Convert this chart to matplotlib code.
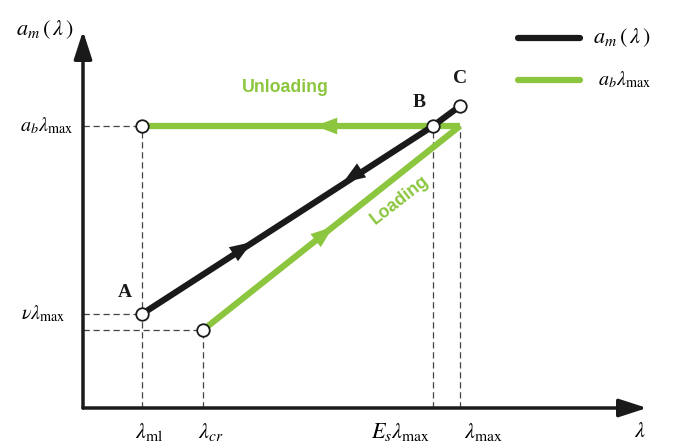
import numpy as np
import matplotlib.pyplot as plt

plt.rcParams['mathtext.fontset'] = 'stix'
plt.rcParams['font.family'] = 'Liberation Serif'

# key points (arbitrary units, origin at the axes corner)
X_LEVELS = [0.59, 1.20, 3.50, 3.77]          # lambda_ml, lambda_cr, Es*lambda_max, lambda_max
X_LABELS = [r'$\lambda_{\mathrm{ml}}$', r'$\lambda_{cr}$',
            r'$E_s\lambda_{\mathrm{max}}$', r'$\lambda_{\mathrm{max}}$']
Y_LEVELS = [2.82, 0.94, 0.78]                # ab*lambda_max, nu*lambda_max, level at lambda_cr
Y_LABELS = [r'$a_b\lambda_{\mathrm{max}}$', r'$\nu\lambda_{\mathrm{max}}$', '']

# curves
AM_X = [0.59, 3.50, 3.77]   # A, B, C
AM_Y = [0.94, 2.82, 3.02]
LOAD_X = [1.20, 3.77]
LOAD_Y = [0.78, 2.82]
UNLOAD_X = [3.77, 0.59]
UNLOAD_Y = [2.82, 2.82]

GREEN = '#8cc63f'
BLACK = '#1a1a1a'

fig = plt.figure(figsize=(6.78, 4.44), dpi=100)
ax = fig.add_axes([0, 0, 1, 1])
ax.set_xlim(-0.83, 5.95)
ax.set_ylim(-0.36, 4.08)
ax.axis('off')

# axes with arrow heads
head = '-|>,head_length=1.7,head_width=0.55'
ax.annotate('', xy=(5.64, 0), xytext=(0, 0),
            arrowprops=dict(arrowstyle=head, color=BLACK, lw=2.5, shrinkA=0, shrinkB=0))
ax.annotate('', xy=(0, 3.77), xytext=(0, 0),
            arrowprops=dict(arrowstyle=head, color=BLACK, lw=2.5, shrinkA=0, shrinkB=0))

# dashed guide lines
dash = dict(color='#444444', lw=0.9, ls=(0, (5, 3)), zorder=1)
ax.plot([0, X_LEVELS[0]], [Y_LEVELS[0]] * 2, **dash)
ax.plot([0, AM_X[0]], [AM_Y[0]] * 2, **dash)
ax.plot([0, LOAD_X[0]], [LOAD_Y[0]] * 2, **dash)
ax.plot([X_LEVELS[0]] * 2, [0, Y_LEVELS[0]], **dash)
ax.plot([X_LEVELS[1]] * 2, [0, LOAD_Y[0]], **dash)
ax.plot([X_LEVELS[2]] * 2, [0, Y_LEVELS[0]], **dash)
ax.plot([X_LEVELS[3]] * 2, [0, Y_LEVELS[0]], **dash)

# curves
ax.plot(UNLOAD_X, UNLOAD_Y, color=GREEN, lw=4.5, solid_capstyle='butt', zorder=2)
ax.plot(LOAD_X, LOAD_Y, color=GREEN, lw=4.5, solid_capstyle='butt', zorder=2)
ax.plot(AM_X, AM_Y, color=BLACK, lw=4.5, solid_capstyle='butt', zorder=3)


def mid_arrow(x0, y0, x1, y1, t, color, z):
    # arrow head placed at fraction t along the segment
    xa = x0 + (x1 - x0) * (t - 0.1)
    ya = y0 + (y1 - y0) * (t - 0.1)
    xb = x0 + (x1 - x0) * t
    yb = y0 + (y1 - y0) * t
    ax.annotate('', xy=(xb, yb), xytext=(xa, ya), zorder=z,
                arrowprops=dict(arrowstyle='-|>,head_length=1.6,head_width=0.6',
                                color=color, lw=0, shrinkA=0, shrinkB=0))


mid_arrow(AM_X[0], AM_Y[0], AM_X[-1], AM_Y[-1], 0.346, BLACK, 4)
mid_arrow(AM_X[-1], AM_Y[-1], AM_X[0], AM_Y[0], 0.368, BLACK, 4)
mid_arrow(LOAD_X[0], LOAD_Y[0], LOAD_X[1], LOAD_Y[1], 0.506, GREEN, 4)
mid_arrow(UNLOAD_X[0], UNLOAD_Y[0], UNLOAD_X[1], UNLOAD_Y[1], 0.456, GREEN, 4)

# open circles
circ_x = [AM_X[0], AM_X[1], AM_X[2], LOAD_X[0], UNLOAD_X[1]]
circ_y = [AM_Y[0], AM_Y[1], AM_Y[2], LOAD_Y[0], UNLOAD_Y[1]]
ax.plot(circ_x, circ_y, 'o', ms=9, mfc='white', mec=BLACK, mew=1.3, zorder=6)

# point labels
for lab, x, y in [('A', 0.42, 1.16), ('B', 3.36, 3.06), ('C', 3.77, 3.30)]:
    ax.text(x, y, lab, fontsize=14, fontweight='bold', ha='center', va='center',
            color=BLACK)

ax.text(2.02, 3.21, 'Unloading', fontsize=12.8, fontweight='bold', color=GREEN,
        family='Liberation Sans', ha='center', va='center')
ax.text(3.17, 2.08, 'Loading', fontsize=12.8, fontweight='bold', color=GREEN,
        family='Liberation Sans', ha='center', va='center', rotation=38)

# tick labels
x_label_pos = [0.66, 1.28, 3.18, 4.00]
for x, lab in zip(x_label_pos, X_LABELS):
    ax.text(x, -0.24, lab, fontsize=16, ha='center', va='center')
ax.text(5.57, -0.24, r'$\lambda$', fontsize=16, ha='center', va='center')

ax.text(-0.10, Y_LEVELS[0], Y_LABELS[0], fontsize=14.5, ha='right', va='center')
ax.text(-0.17, Y_LEVELS[1], Y_LABELS[1], fontsize=14.5, ha='right', va='center')
ax.text(-0.38, 3.78, r'$a_m\,(\,\lambda\,)$', fontsize=16, ha='center', va='center')

# legend
ax.plot([4.35, 4.97], [3.70, 3.70], color=BLACK, lw=4.5, solid_capstyle='round')
ax.plot([4.35, 4.97], [3.28, 3.28], color=GREEN, lw=4.5, solid_capstyle='round')
ax.text(5.10, 3.70, r'$a_m\,(\,\lambda\,)$', fontsize=16, ha='left', va='center')
ax.text(5.15, 3.28, r'$a_b\lambda_{\mathrm{max}}$', fontsize=14.5, ha='left', va='center')

fig.savefig('out.png', dpi=100, facecolor='white')
